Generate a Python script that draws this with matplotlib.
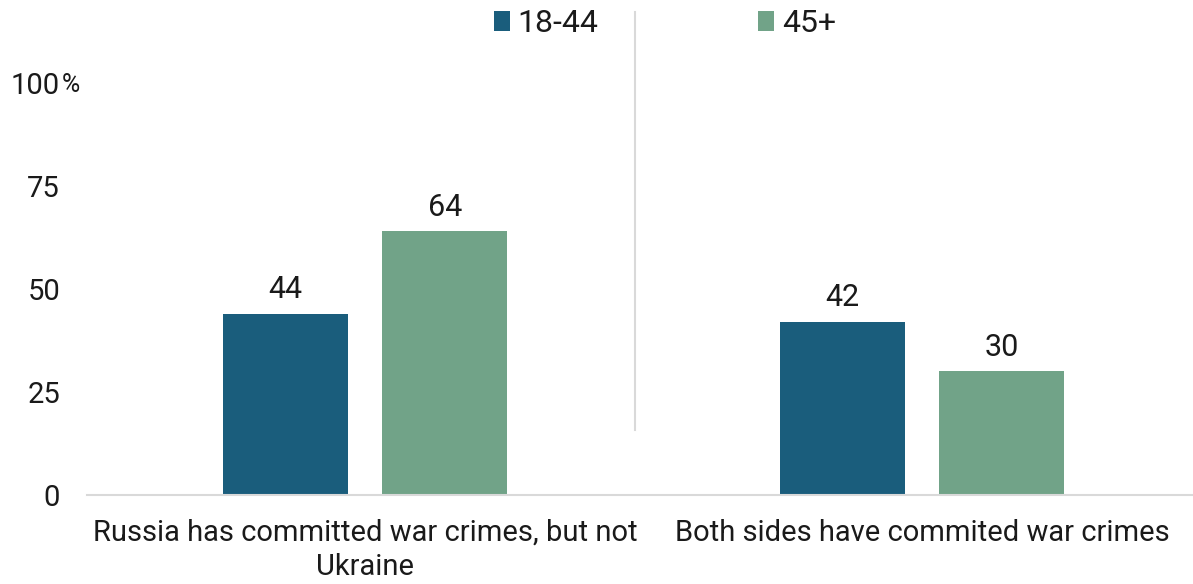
import matplotlib
matplotlib.use("Agg")
import matplotlib.pyplot as plt
from matplotlib.patches import Patch
from matplotlib.lines import Line2D
import numpy as np

plt.rcParams["font.family"] = ["Roboto", "DejaVu Sans"]

# Data
categories = ["Russia has committed war crimes, but not\nUkraine",
              "Both sides have commited war crimes"]
series_names = ["18-44", "45+"]
young = [44, 42]
old = [64, 30]
colors = ["#1a5d7c", "#71a388"]
yticks = [0, 25, 50, 75, 100]
ytick_labels = ["0", "25", "50", "75", "100"]

W, H = 1193, 584
fig = plt.figure(figsize=(W / 100, H / 100), dpi=100)
ax = fig.add_axes([86.5 / W, 1 - 495 / H, 1114 / W, 412 / H])

x = np.arange(len(categories))
width = 0.224
offset = 0.143
for vals, off, col in [(young, -offset, colors[0]), (old, offset, colors[1])]:
    bars = ax.bar(x + off, vals, width=width, color=col, zorder=2)
    for b, v in zip(bars, vals):
        ax.annotate(f"{v}", (b.get_x() + b.get_width() / 2, v),
                    xytext=(0, 7), textcoords="offset points",
                    ha="center", va="bottom", fontsize=22, color="#1a1a1a")

ax.set_xlim(-0.5, 1.5)
ax.set_ylim(0, 100)
ax.set_xticks(x)
ax.set_xticklabels(categories, fontsize=21, color="#1a1a1a", linespacing=1.3)
ax.set_yticks(yticks)
ax.set_yticklabels(ytick_labels, fontsize=21, color="#1a1a1a")
ax.tick_params(axis="both", length=0)
ax.tick_params(axis="y", pad=19)
ax.tick_params(axis="x", pad=17)
for s in ["top", "right", "left"]:
    ax.spines[s].set_visible(False)
ax.spines["bottom"].set_color("#d9d9d9")
ax.spines["bottom"].set_linewidth(1.5)

# percent sign next to the top tick
fig.text(62 / W, 1 - 92 / H, "%", fontsize=18, color="#1a1a1a",
         ha="left", va="baseline")

# divider line between groups
fig.add_artist(Line2D([635 / W, 635 / W], [1 - 12 / H, 1 - 430 / H],
                      color="#d9d9d9", linewidth=1.5))

handles = [Patch(facecolor=c, edgecolor="none") for c in colors]
fig.legend(handles, series_names, loc="center", ncol=2,
           bbox_to_anchor=(665 / W, 1 - 24 / H), frameon=False,
           fontsize=23, handlelength=0.5, handleheight=0.6,
           handletextpad=0.25, columnspacing=5.0, labelcolor="#1a1a1a")

fig.savefig("out.png", dpi=100)
